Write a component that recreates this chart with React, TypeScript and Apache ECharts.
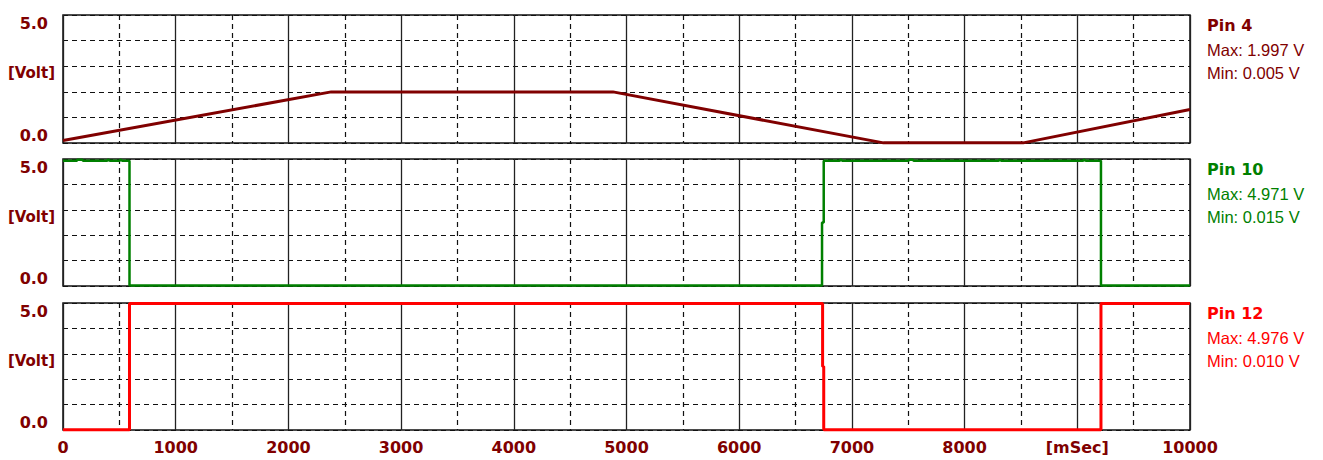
import React, { useEffect, useRef } from "react";
import * as echarts from "echarts";

const pinNames = ["Pin 4", "Pin 10", "Pin 12"];
const pinColors = ["#800000", "#008000", "#ff0000"];
const pinMaxText = ["Max: 1.997 V", "Max: 4.971 V", "Max: 4.976 V"];
const pinMinText = ["Min: 0.005 V", "Min: 0.015 V", "Min: 0.010 V"];
const yUnitText = "[Volt]";

// [time ms, volt]
const pin4Data = [
  [0, 0.1], [2380, 1.997], [4880, 1.997], [7280, 0.005], [8520, 0.005], [10000, 1.31],
];
const pin10Data = [
  [0, 4.93], [120, 4.93], [130, 4.97], [170, 4.97], [180, 4.93], [390, 4.93],
  [400, 4.97], [420, 4.93], [500, 4.93], [510, 4.97], [530, 4.93], [590, 4.93],
  [590, 0.015], [6735, 0.015], [6735, 2.5], [6750, 2.5], [6750, 4.93],
  [6890, 4.93], [6900, 4.97], [6920, 4.93], [7500, 4.93], [7510, 4.97],
  [7540, 4.97], [7550, 4.93], [8300, 4.93], [8310, 4.97], [8330, 4.93],
  [9050, 4.93], [9060, 4.97], [9080, 4.93], [9210, 4.93], [9210, 0.015],
  [10000, 0.015],
];
const pin12Data = [
  [0, 0.01], [590, 0.01], [590, 4.976], [6740, 4.976], [6740, 2.5],
  [6750, 2.5], [6750, 0.01], [9210, 0.01], [9210, 4.976], [10000, 4.976],
];
const seriesData = [pin4Data, pin10Data, pin12Data];
const lineWidths = [3, 2.5, 3];

const xTickValues = [0, 1000, 2000, 3000, 4000, 5000, 6000, 7000, 8000, 9000, 10000];
const xTickLabels = ["0", "1000", "2000", "3000", "4000", "5000", "6000", "7000", "8000", "[mSec]", "10000"];

const labelColor = "#800000";
const gridTops = [15, 159, 303];
const gridHeights = [128, 127, 127];
const gridLeft = 63;
const gridRight = 133;

export default function App() {
  const ref = useRef<HTMLDivElement>(null);
  useEffect(() => {
    document.body.style.margin = "0";
    const chart = echarts.init(ref.current!, undefined, { renderer: "svg" });
    const axisFont = {
      color: labelColor,
      fontFamily: "DejaVu Sans",
      fontWeight: "bold" as const,
      fontSize: 16,
    };
    const grids = gridTops.map((t, i) => ({
      left: gridLeft,
      right: gridRight,
      top: t,
      height: gridHeights[i],
      outerBoundsMode: "none",
      containLabel: false,
      show: true,
      borderColor: "#111",
      borderWidth: 1.5,
      backgroundColor: "transparent",
    }));
    const xAxes = gridTops.map((_, i) => ({
      gridIndex: i,
      type: "value",
      min: 0,
      max: 10000,
      interval: 1000,
      axisLine: { show: false },
      axisTick: { show: false },
      axisLabel: {
        show: i === 2,
        margin: 9,
        ...axisFont,
        formatter: (v: number) => {
          const k = xTickValues.indexOf(v);
          return k >= 0 ? xTickLabels[k] : "";
        },
      },
      splitLine: { show: true, lineStyle: { color: "#222", width: 1.3 } },
      minorTick: { show: false, splitNumber: 2 },
      minorSplitLine: { show: true, lineStyle: { color: "#111", width: 1.2, type: [5, 4] } },
    }));
    const yAxes = gridTops.map((_, i) => ({
      gridIndex: i,
      type: "value",
      min: 0,
      max: 5,
      interval: 1,
      axisLine: { show: false },
      axisTick: { show: false },
      axisLabel: {
        margin: 15,
        ...axisFont,
        verticalAlignMaxLabel: "top",
        verticalAlignMinLabel: "bottom",
        formatter: (v: number) => (v === 5 ? "5.0" : v === 0 ? "0.0" : ""),
      },
      splitLine: { show: true, lineStyle: { color: "#111", width: 1.2, type: [5, 4] } },
    }));
    const series = seriesData.map((d, i) => ({
      type: "line",
      xAxisIndex: i,
      yAxisIndex: i,
      data: d,
      showSymbol: false,
      symbol: "none",
      clip: false,
      lineStyle: { color: pinColors[i], width: lineWidths[i] },
      z: 5,
    }));
    const graphic: any[] = [];
    gridTops.forEach((t, i) => {
      graphic.push({
        type: "text",
        x: 55,
        y: t + 58,
        style: {
          text: yUnitText,
          fill: labelColor,
          fontFamily: "DejaVu Sans",
          fontWeight: "bold",
          fontSize: 15,
          align: "right",
          verticalAlign: "middle",
        },
      });
      graphic.push({
        type: "text",
        x: 1207,
        y: t + 10,
        style: {
          text: pinNames[i],
          fill: pinColors[i],
          fontFamily: "DejaVu Sans",
          fontWeight: "bold",
          fontSize: 16,
          verticalAlign: "middle",
        },
      });
      graphic.push({
        type: "text",
        x: 1207,
        y: t + 34.5,
        style: {
          text: pinMaxText[i],
          fill: pinColors[i],
          fontFamily: "Liberation Sans",
          fontSize: 16.5,
          verticalAlign: "middle",
        },
      });
      graphic.push({
        type: "text",
        x: 1207,
        y: t + 57.5,
        style: {
          text: pinMinText[i],
          fill: pinColors[i],
          fontFamily: "Liberation Sans",
          fontSize: 16.5,
          verticalAlign: "middle",
        },
      });
    });
    chart.setOption({
      animation: false,
      backgroundColor: "#fff",
      grid: grids,
      xAxis: xAxes,
      yAxis: yAxes,
      series,
      graphic,
    } as any);
    return () => chart.dispose();
  }, []);
  return <div ref={ref} style={{ width: 1323, height: 460 }} />;
}
